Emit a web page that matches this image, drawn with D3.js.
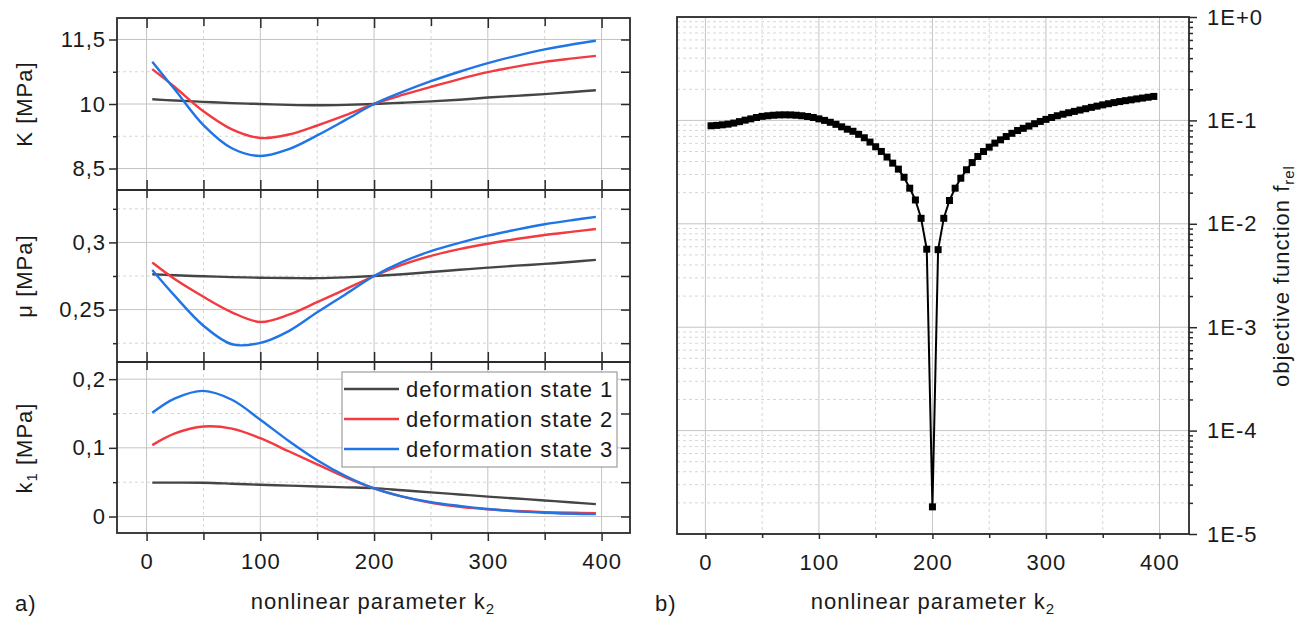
<!DOCTYPE html>
<html><head><meta charset="utf-8">
<script src="https://cdn.jsdelivr.net/npm/d3@7/dist/d3.min.js"></script>
<style>
html,body{margin:0;padding:0;background:#fff;}
svg text{font-family:"Liberation Sans",Arial,sans-serif;fill:#1a1a1a;letter-spacing:1px;}
</style></head><body>
<svg id="chart" width="1312" height="620"></svg>
<script>
// ---------- data ----------
const k2Left = [5,25,50,75,100,125,150,175,200,225,250,275,300,325,350,375,395];
const seriesNames = ["deformation state 1","deformation state 2","deformation state 3"];
const seriesColors = ["#454545","#f23a40","#1f74e6"];

const kState1 = [10.11,10.08,10.05,10.02,10.00,9.98,9.97,9.98,10.00,10.03,10.06,10.10,10.15,10.19,10.23,10.28,10.32];
const kState2 = [10.81,10.39,9.83,9.41,9.21,9.29,9.50,9.74,10.00,10.21,10.40,10.58,10.74,10.87,10.98,11.06,11.12];
const kState3 = [10.98,10.33,9.51,8.97,8.79,8.95,9.27,9.63,10.00,10.28,10.53,10.75,10.95,11.12,11.27,11.39,11.47];

const muState1 = [0.2763,0.2756,0.2748,0.2742,0.2737,0.2735,0.2734,0.2740,0.2750,0.2763,0.2780,0.2796,0.2812,0.2827,0.2840,0.2856,0.2870];
const muState2 = [0.2850,0.2725,0.2595,0.2480,0.2408,0.2462,0.2555,0.2652,0.2750,0.2835,0.2900,0.2950,0.2990,0.3025,0.3055,0.3080,0.3100];
const muState3 = [0.2795,0.2600,0.2380,0.2242,0.2252,0.2340,0.2480,0.2615,0.2750,0.2855,0.2935,0.2997,0.3050,0.3095,0.3135,0.3167,0.3190];

const k1State1 = [0.0494,0.0494,0.0492,0.0478,0.0462,0.0450,0.0438,0.0425,0.0413,0.0382,0.0352,0.0321,0.0290,0.0262,0.0234,0.0205,0.0180];
const k1State2 = [0.104,0.121,0.131,0.128,0.114,0.095,0.076,0.057,0.041,0.029,0.020,0.014,0.0105,0.008,0.0064,0.0055,0.0050];
const k1State3 = [0.151,0.172,0.183,0.170,0.141,0.110,0.082,0.059,0.041,0.029,0.021,0.0155,0.011,0.0075,0.0055,0.0040,0.0035];

const xTicks = [0,100,200,300,400];
const xTickLabels = ["0","100","200","300","400"];
const xMinorTicks = [50,150,250,350];

const kTicks = [8.5,10,11.5], kTickLabels = ["8,5","10","11,5"], kMinor = [9.25,10.75];
const muTicks = [0.25,0.3], muTickLabels = ["0,25","0,3"], muMinor = [0.225,0.275,0.325];
const k1Ticks = [0,0.1,0.2], k1TickLabels = ["0","0,1","0,2"], k1Minor = [0.05,0.15];

const k2Right = [5,10,15,20,25,30,35,40,45,50,55,60,65,70,75,80,85,90,95,100,
  105,110,115,120,125,130,135,140,145,150,155,160,165,170,175,180,185,190,195,200,
  205,210,215,220,225,230,235,240,245,250,255,260,265,270,275,280,285,290,295,300,
  305,310,315,320,325,330,335,340,345,350,355,360,365,370,375,380,385,390,395];
const fRel = [0.0887,0.0895,0.0906,0.0920,0.0942,0.0973,0.1005,0.1035,0.1067,0.1094,
  0.1109,0.1122,0.1130,0.1132,0.1130,0.1122,0.1109,0.1091,0.1067,0.1035,
  0.1000,0.0959,0.0916,0.0867,0.0822,0.0785,0.0733,0.0679,0.0617,0.0556,
  0.0501,0.0442,0.0386,0.0338,0.0282,0.0221,0.0170,0.0113,0.00568,0.0000183,
  0.00562,0.0113,0.0168,0.0221,0.0276,0.0333,0.0391,0.0448,0.0500,0.0551,
  0.0603,0.0649,0.0698,0.0750,0.0798,0.0838,0.0881,0.0929,0.0977,0.1023,
  0.1067,0.1109,0.1148,0.1186,0.1222,0.1259,0.1297,0.1337,0.1374,0.1413,
  0.1449,0.1486,0.1521,0.1552,0.1581,0.1614,0.1644,0.1675,0.1706];
const logTicks = [1e-5,1e-4,1e-3,1e-2,1e-1,1];
const logTickLabels = ["1E-5","1E-4","1E-3","1E-2","1E-1","1E+0"];

// ---------- layout ----------
const svg = d3.select("#chart");
const FS = 22;
const AX = "#2a2a2a";
const GRID_MAJ = "#c4c4c4", GRID_MIN = "#d6d6d6";

function styleAxis(g){
  g.select(".domain").remove();
  g.selectAll(".tick line").attr("stroke", AX).attr("stroke-width", 1.5);
  g.selectAll(".tick text").attr("font-size", FS).attr("fill", "#1a1a1a")
    .attr("font-family", '"Liberation Sans", Arial, sans-serif');
}

// ===== LEFT PANEL =====
const LX0 = 117, LX1 = 630;
const xL = d3.scaleLinear().domain([-26, 425]).range([LX0, LX1]);
const panels = [
  {top:18, bottom:190, domain:[8,12], ticks:kTicks, labels:kTickLabels, minor:kMinor, data:[kState1,kState2,kState3]},
  {top:190, bottom:362, domain:[0.211,0.339], ticks:muTicks, labels:muTickLabels, minor:muMinor, data:[muState1,muState2,muState3]},
  {top:362, bottom:533, domain:[-0.024,0.225], ticks:k1Ticks, labels:k1TickLabels, minor:k1Minor, data:[k1State1,k1State2,k1State3]}
];
panels.forEach(p => { p.y = d3.scaleLinear().domain(p.domain).range([p.bottom, p.top]); });

const gGrid = svg.append("g");
panels.forEach(p => {
  gGrid.selectAll(null).data(xMinorTicks).join("line")
    .attr("x1", d => xL(d)).attr("x2", d => xL(d)).attr("y1", p.top).attr("y2", p.bottom)
    .attr("stroke", GRID_MIN).attr("stroke-dasharray", "3,3");
  gGrid.selectAll(null).data(p.minor).join("line")
    .attr("x1", LX0).attr("x2", LX1).attr("y1", d => p.y(d)).attr("y2", d => p.y(d))
    .attr("stroke", GRID_MIN).attr("stroke-dasharray", "3,3");
  gGrid.selectAll(null).data(xTicks).join("line")
    .attr("x1", d => xL(d)).attr("x2", d => xL(d)).attr("y1", p.top).attr("y2", p.bottom)
    .attr("stroke", GRID_MAJ);
  gGrid.selectAll(null).data(p.ticks).join("line")
    .attr("x1", LX0).attr("x2", LX1).attr("y1", d => p.y(d)).attr("y2", d => p.y(d))
    .attr("stroke", GRID_MAJ);
});

// curves
panels.forEach(p => {
  const line = d3.line().x((d,i) => xL(k2Left[i])).y(d => p.y(d)).curve(d3.curveCatmullRom.alpha(0.5));
  p.data.forEach((s, si) => {
    svg.append("path").datum(s).attr("d", line).attr("fill", "none")
      .attr("stroke", seriesColors[si]).attr("stroke-width", 2.4).attr("stroke-linejoin", "round");
  });
});

// axes
panels.forEach((p, pi) => {
  svg.append("g").attr("transform", `translate(${LX0},0)`)
    .call(d3.axisLeft(p.y).tickValues(p.ticks).tickSize(8).tickPadding(3).tickFormat((d,i) => p.labels[i]))
    .call(styleAxis);
  svg.append("g").attr("transform", `translate(${LX0},0)`)
    .call(d3.axisLeft(p.y).tickValues(p.minor).tickSize(4).tickFormat(""))
    .call(styleAxis);
  svg.append("g").attr("transform", `translate(${LX1},0)`)
    .call(d3.axisLeft(p.y).tickValues(p.ticks.concat(p.minor)).tickSize(9).tickFormat(""))
    .call(styleAxis);
  if (pi === 0) {
    svg.append("g").attr("transform", `translate(0,${p.top})`)
      .call(d3.axisBottom(xL).tickValues(xTicks).tickSize(10).tickFormat("")).call(styleAxis);
    svg.append("g").attr("transform", `translate(0,${p.top})`)
      .call(d3.axisBottom(xL).tickValues(xMinorTicks).tickSize(8).tickFormat("")).call(styleAxis);
  } else {
    svg.append("g").attr("transform", `translate(0,${p.top})`)
      .call(d3.axisBottom(xL).tickValues(xTicks.concat(xMinorTicks)).tickSize(8).tickFormat("")).call(styleAxis);
    svg.append("g").attr("transform", `translate(0,${p.top})`)
      .call(d3.axisTop(xL).tickValues(xTicks.concat(xMinorTicks)).tickSize(10).tickFormat("")).call(styleAxis);
  }
  svg.append("rect").attr("x", LX0).attr("y", p.top).attr("width", LX1 - LX0).attr("height", p.bottom - p.top)
    .attr("fill", "none").attr("stroke", AX).attr("stroke-width", 1.8);
});
svg.append("g").attr("transform", `translate(0,533)`)
  .call(d3.axisBottom(xL).tickValues(xTicks).tickSize(8).tickPadding(12).tickFormat((d,i) => xTickLabels[i]))
  .call(styleAxis);
svg.append("g").attr("transform", `translate(0,533)`)
  .call(d3.axisBottom(xL).tickValues(xMinorTicks).tickSize(7).tickFormat(""))
  .call(styleAxis);

// legend
const lg = svg.append("g");
lg.append("rect").attr("x", 342).attr("y", 372).attr("width", 275).attr("height", 95)
  .attr("fill", "#fff").attr("stroke", "#8a8a8a").attr("stroke-width", 1);
seriesNames.forEach((n, i) => {
  const yy = 389 + i * 30;
  lg.append("line").attr("x1", 344).attr("x2", 399).attr("y1", yy).attr("y2", yy)
    .attr("stroke", seriesColors[i]).attr("stroke-width", 2.4);
  lg.append("text").attr("x", 406).attr("y", yy + 8).attr("font-size", FS).text(n);
});

function yTitle(x, y, parts){
  const t = svg.append("text").attr("transform", `translate(${x},${y}) rotate(-90)`)
    .attr("text-anchor", "middle").attr("font-size", FS);
  parts.forEach(pt => {
    const ts = t.append("tspan").text(pt.t);
    if (pt.sub) ts.attr("font-size", 15).attr("dy", 5);
    if (pt.after) ts.attr("dy", -5);
  });
  return t;
}
yTitle(32, 104, [{t:"K [MPa]"}]);
yTitle(32, 276, [{t:"\u03bc [MPa]"}]);
yTitle(32, 448, [{t:"k"},{t:"1", sub:true},{t:" [MPa]", after:true}]);

function xTitle(x, y){
  const t = svg.append("text").attr("x", x).attr("y", y).attr("text-anchor", "middle").attr("font-size", FS);
  t.append("tspan").text("nonlinear parameter k");
  t.append("tspan").text("2").attr("font-size", 15).attr("dy", 5);
}
xTitle(373, 609);
svg.append("text").attr("x", 15).attr("y", 611).attr("font-size", FS).text("a)");

// ===== RIGHT PANEL =====
const RX0 = 677, RX1 = 1189, RT = 17, RB = 534;
const xR = d3.scaleLinear().domain([-25, 426]).range([RX0, RX1]);
const yR = d3.scaleLog().domain([1e-5, 1]).range([RB, RT]);
const allLog = yR.ticks();
const minorLog = allLog.filter(v => !logTicks.some(t => Math.abs(v - t) / t < 1e-6));

const gR = svg.append("g");
gR.selectAll(null).data(minorLog).join("line")
  .attr("x1", RX0).attr("x2", RX1).attr("y1", d => yR(d)).attr("y2", d => yR(d))
  .attr("stroke", GRID_MIN).attr("stroke-dasharray", "3,3");
gR.selectAll(null).data(xMinorTicks).join("line")
  .attr("x1", d => xR(d)).attr("x2", d => xR(d)).attr("y1", RT).attr("y2", RB)
  .attr("stroke", GRID_MIN).attr("stroke-dasharray", "3,3");
gR.selectAll(null).data(logTicks).join("line")
  .attr("x1", RX0).attr("x2", RX1).attr("y1", d => yR(d)).attr("y2", d => yR(d))
  .attr("stroke", GRID_MAJ);
gR.selectAll(null).data(xTicks).join("line")
  .attr("x1", d => xR(d)).attr("x2", d => xR(d)).attr("y1", RT).attr("y2", RB)
  .attr("stroke", GRID_MAJ);

const lineR = d3.line().x((d,i) => xR(k2Right[i])).y(d => yR(d));
svg.append("path").datum(fRel).attr("d", lineR).attr("fill", "none")
  .attr("stroke", "#000").attr("stroke-width", 2).attr("stroke-linejoin", "round");
svg.append("g").selectAll("rect").data(fRel).join("rect")
  .attr("x", (d,i) => xR(k2Right[i]) - 3.5).attr("y", d => yR(d) - 3.5)
  .attr("width", 7).attr("height", 7).attr("fill", "#000");

svg.append("g").attr("transform", `translate(0,${RB})`)
  .call(d3.axisBottom(xR).tickValues(xTicks).tickSize(5).tickPadding(15).tickFormat((d,i) => xTickLabels[i]))
  .call(styleAxis);
svg.append("g").attr("transform", `translate(0,${RB})`)
  .call(d3.axisBottom(xR).tickValues(xMinorTicks).tickSize(4).tickFormat(""))
  .call(styleAxis);
svg.append("g").attr("transform", `translate(${RX1},0)`)
  .call(d3.axisRight(yR).tickValues(logTicks).tickSize(8).tickPadding(10).tickFormat((d,i) => logTickLabels[i]))
  .call(styleAxis);
svg.append("g").attr("transform", `translate(${RX1},0)`)
  .call(d3.axisRight(yR).tickValues(minorLog).tickSize(4).tickFormat(""))
  .call(styleAxis);
svg.append("rect").attr("x", RX0).attr("y", RT).attr("width", RX1 - RX0).attr("height", RB - RT)
  .attr("fill", "none").attr("stroke", AX).attr("stroke-width", 1.8);

xTitle(933, 609);
svg.append("text").attr("x", 655).attr("y", 611).attr("font-size", FS).text("b)");
yTitle(1289, 276, [{t:"objective function f"},{t:"rel", sub:true}]);
</script>
</body></html>
